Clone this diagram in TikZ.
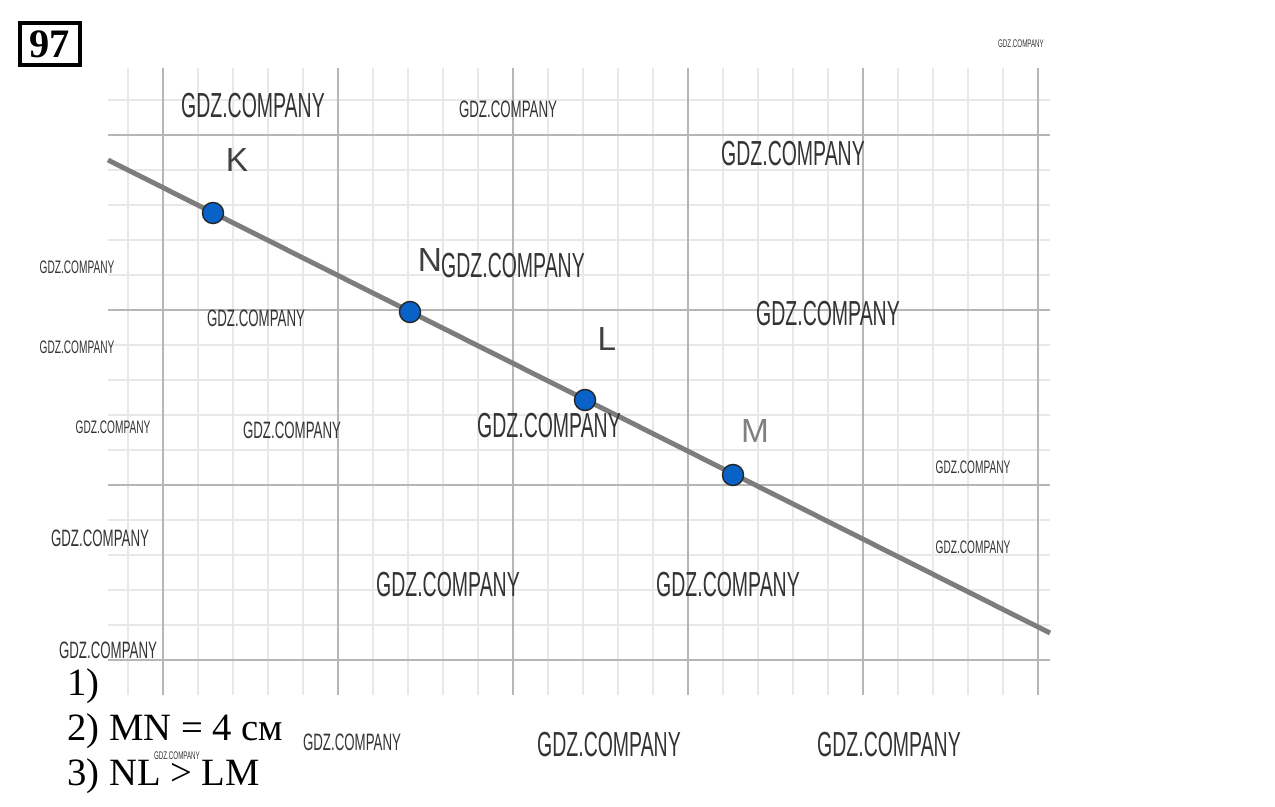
\documentclass[tikz,border=0pt]{standalone}
\usepackage{fontspec}
\setmainfont{Liberation Serif}
\newfontfamily\wmfont[FakeStretch=0.56]{Liberation Sans}
\newfontfamily\ptfont{Liberation Sans}
\usetikzlibrary{positioning}
\definecolor{dotblue}{RGB}{8,98,200}
\definecolor{thingrid}{RGB}{232,232,232}
\definecolor{thickgrid}{RGB}{182,182,182}
\definecolor{linegray}{RGB}{125,125,125}

\begin{document}
\begin{tikzpicture}[
	x=0.02cm, y=-0.02cm
	,fine/.style={draw=thingrid, line width=1.1pt}
	,major/.style={draw=thickgrid, line width=1.5pt}
	,pt/.style={circle, draw=black!85, fill=dotblue, line width=0.8pt, inner sep=0pt, minimum size=12pt}
	,lbl/.style={font=\ptfont\fontsize{19}{19}\selectfont, text=black!75, inner sep=0pt}
	,wm/.style={font=\wmfont\fontsize{#1}{#1}\selectfont, text=black!80, inner sep=0pt}
	,answer/.style={font=\fontsize{22}{22}\selectfont, anchor=base west, inner sep=0pt}
]
	\useasboundingbox (0,0) rectangle (1275,807);

	% grid
	\foreach \gx in {0,...,26}
		\draw [fine] (128+35*\gx,68) -- (128+35*\gx,695);
	\foreach \gy in {0,...,16}
		\draw [fine] (108,100+35*\gy) -- (1050,100+35*\gy);
	\foreach \gx in {0,...,5}
		\draw [major] (163+175*\gx,68) -- (163+175*\gx,695);
	\foreach \gy in {0,...,3}
		\draw [major] (108,135+175*\gy) -- (1050,135+175*\gy);

	% number of the exercise
	\node [draw, line width=2.3pt, font=\bfseries\fontsize{23}{23}\selectfont,
		inner sep=0pt, minimum width=34.5pt, minimum height=23.5pt] (num) at (50,44) {97};

	% the line and its points
	\coordinate (lineA) at (108,160);
	\coordinate (lineB) at (1050,633);
	\draw [linegray, line width=2.8pt] (lineA) -- (lineB);

	\node [pt] (K) at (213,213) {};
	\node [pt] (N) at (410,312) {};
	\node [pt] (L) at (585,400) {};
	\node [pt] (M) at (733,475) {};

	\node [lbl] (labK) at (237,160) {K};
	\node [lbl] (labN) at (430,260) {N};
	\node [lbl] (labL) at (607,339) {L};
	\node [lbl, text=black!50] (labM) at (755,431) {M};

	% answers
	\node [answer] (ans1) at (67,695) {1)};
	\node [answer] (ans2) at (67,740) {2) MN = 4 см};
	\node [answer] (ans3) at (67,785) {3) NL > LM};

	% watermarks
	\foreach \wx/\wy/\ws [count=\wi] in {
		253/106/19.8, 508/109/13.5, 793/154/19.8, 77/267/10.3,
		513/266/19.8, 256/318/13.5, 828/314/19.8, 77/347/10.3,
		113/427/10.3, 292/430/13.5, 549/426/19.8, 973/467/10.3,
		100/538/13.5, 973/547/10.3, 448/585/19.8, 728/585/19.8,
		108/650/13.5, 352/742/13.5, 609/745/19.8, 889/745/19.8,
		1021/44/6.3, 177/756/6.3}
		\node [wm=\ws] (wm\wi) at (\wx,\wy) {GDZ.COMPANY};
\end{tikzpicture}
\end{document}
